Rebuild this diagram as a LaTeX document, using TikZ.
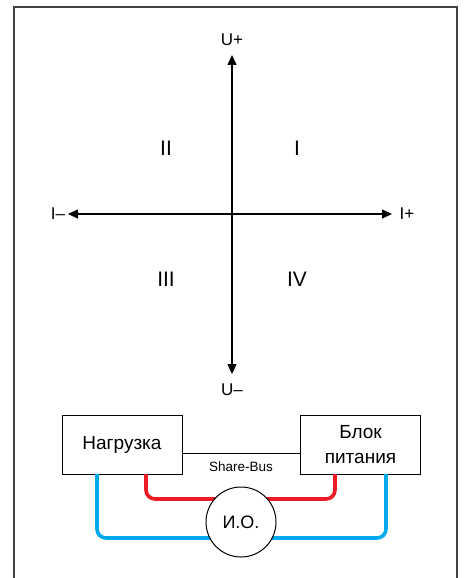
\documentclass[tikz,border=0pt]{standalone}
\usepackage{fontspec}
\setmainfont{Liberation Sans}
\usetikzlibrary{arrows.meta}
\definecolor{framegray}{HTML}{404040}
\definecolor{wirered}{HTML}{ED1C24}
\definecolor{wireblue}{HTML}{00A8EC}
\tikzset{
  axis/.style={line width=1.3pt, -{Triangle[length=10pt,width=9pt]}},
  lbl/.style={font=\fontsize{17}{19}\selectfont, inner sep=0pt},
  quad/.style={font=\fontsize{21}{24}\selectfont, inner sep=0pt},
  unitbox/.style={draw, line width=1pt, minimum width=120pt, minimum height=59pt, align=center, font=\fontsize{19}{22}\selectfont, inner sep=0pt},
  wire/.style={line width=3.6pt, rounded corners=9pt},
}
\begin{document}
\begin{tikzpicture}[x=1pt,y=-1pt]
\useasboundingbox (0,0) rectangle (464,578);
% frame
\draw[framegray, line width=1.6pt] (14,580) -- (14,7) -- (457,7) -- (457,580);
% axes
\coordinate (c) at (232,214);
\node[lbl] (up) at (232,40) {U+};
\node[lbl] (un) at (232,390) {U–};
\node[lbl] (in) at (58,214) {I–};
\node[lbl] (ip) at (407,214) {I+};
\coordinate (upt) at (232,55);
\coordinate (unt) at (232,374);
\coordinate (int) at (68,214);
\coordinate (ipt) at (392,214);
\draw[axis] (c) -- (upt);
\draw[axis] (c) -- (unt);
\draw[axis] (c) -- (int);
\draw[axis] (c) -- (ipt);
% quadrants
\node[quad] (q2) at (166,148) {II};
\node[quad] (q1) at (297,148) {I};
\node[quad] (q3) at (166,279) {III};
\node[quad] (q4) at (297,279) {IV};
% bottom circuit
\node[unitbox] (load) at (122,444.5) {Нагрузка};
\node[unitbox, font=\fontsize{19}{25}\selectfont] (psu) at (360.5,444.5) {Блок\\питания};
\draw[line width=1pt] (load.east |- 0,453) coordinate (sb1) -- (psu.west |- 0,453) coordinate (sb2);
\node[font=\fontsize{13.5}{15}\selectfont, inner sep=0pt] (sblbl) at (241,467) {Share-Bus};
\coordinate (r1) at (146,474);
\coordinate (r2) at (335,474);
\coordinate (b1) at (97,474);
\coordinate (b2) at (386,474);
\draw[wire, wirered] (r1) -- (146,499) -- (335,499) -- (r2);
\draw[wire, wireblue] (b1) -- (97,538) -- (386,538) -- (b2);
\draw[line width=1pt, fill=white] (241,522) circle (35pt);
\node[font=\fontsize{18}{21}\selectfont, inner sep=0pt] (io) at (241,522) {И.О.};
\end{tikzpicture}
\end{document}
